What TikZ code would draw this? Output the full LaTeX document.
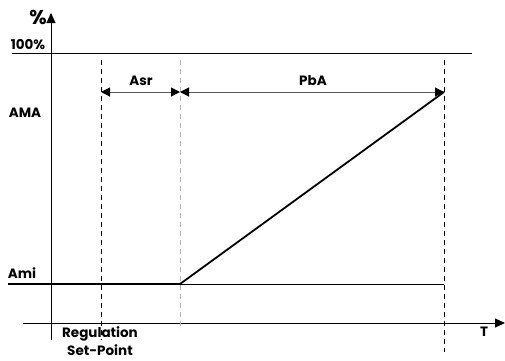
\documentclass[tikz,border=0pt]{standalone}
\usepackage{fontspec}
\setmainfont{Poppins}
\usetikzlibrary{arrows.meta,positioning}
\tikzset{
      axis/.style = {-{Triangle[length=10pt,width=9pt]}, line width=1pt},   % <--- axes
     level/.style = {line width=0.9pt},
    output/.style = {line width=1.8pt, line join=round},
     guide/.style = {dashed, line width=1pt, dash pattern=on 5pt off 4pt},
  grayguide/.style = {guide, gray!60},
      span/.style = {{Triangle[black,length=9pt,width=9pt]}-{Triangle[black,length=9pt,width=9pt]},
                     gray!70!black, line width=1pt},
       lbl/.style = {font=\bfseries\fontsize{13.5}{14}\selectfont, inner sep=0pt},
        }
\begin{document}
\begin{tikzpicture}[x=1pt,y=-1pt]
  \useasboundingbox (0,0) rectangle (505,360);
  % points
  \coordinate (yb) at (51,340);
  \coordinate (yt) at (51,13);
  \coordinate (xl) at (23,323);
  \coordinate (xr) at (505,323);
  \coordinate (hl) at (12,53);
  \coordinate (hr) at (472,53);
  \coordinate (al) at (8,284);
  \coordinate (ak) at (180,284);
  \coordinate (ar) at (444,284);
  \coordinate (ma) at (444,92);
  \coordinate (s1) at (101,92);
  \coordinate (s2) at (180,92);
  \coordinate (g1t) at (101,60);
  \coordinate (g1b) at (101,340);
  \coordinate (g2t) at (180,60);
  \coordinate (g2b) at (180,330);
  \coordinate (g3t) at (444,60);
  \coordinate (g3b) at (444,352);
  % axes and levels
  \draw[axis] (yb) -- (yt);
  \draw[axis] (xl) -- (xr);
  \draw[level] (hl) -- (hr);
  \draw[level] (ak) -- (ar);
  % guides
  \draw[guide] (g1t) -- (g1b);
  \draw[grayguide] (g2t) -- (g2b);
  \draw[guide] (g3t) -- (g3b);
  % output
  \draw[output] (al) -- (ak) -- (ma);
  % spans
  \draw[span] (s1) -- (s2);
  \draw[span] (s2) -- (ma);
  % labels
  \node[lbl, font=\bfseries\fontsize{20}{21}\selectfont] (pct) at (38,17) {\%};
  \node[lbl] (full) at (28,45) {100\%};
  \node[lbl] (amax) at (25,113) {AMA};
  \node[lbl] (amin) at (22,273) {Ami};
  \node[lbl] (asr) at (141,81) {Asr};
  \node[lbl] (pba) at (313,81) {PbA};
  \node[lbl] (reg) at (100,334) {Regulation};
  \node[lbl, below=3pt of reg] (setp) {Set-Point};
  \node[lbl] (tt) at (484,332) {T};
\end{tikzpicture}
\end{document}
